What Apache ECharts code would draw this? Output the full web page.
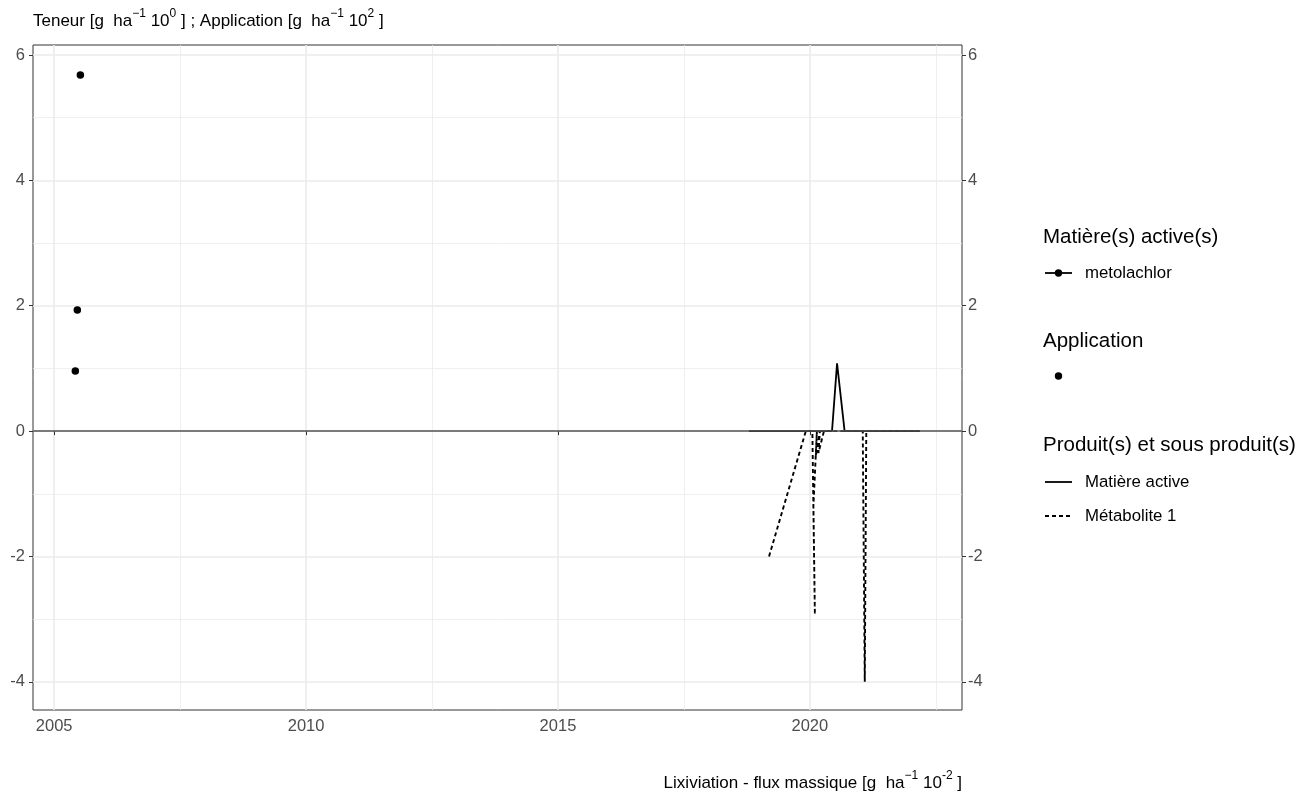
<!DOCTYPE html>
<html>
<head>
<meta charset="utf-8">
<script src="https://cdn.jsdelivr.net/npm/echarts@6/dist/echarts.min.js"></script>
<style>
html,body{margin:0;padding:0;background:#fff;}
#chart{width:1300px;height:795px;}
</style>
</head>
<body>
<div id="chart"></div>
<script>
// ---- data ----
var xMajorTicks = [2005, 2010, 2015, 2020];
var xMinorTicks = [2007.5, 2012.5, 2017.5, 2022.5];
var yMajorTicks = [-4, -2, 0, 2, 4, 6];
var yMinorTicks = [-3, -1, 1, 3, 5];

var applicationX = [2005.52, 2005.46, 2005.42];
var applicationY = [5.68, 1.93, 0.96];

var activeX = [2018.79, 2020.44, 2020.54, 2020.69, 2022.18];
var activeY = [0, 0, 1.08, 0, 0];

var metaboliteX = [2019.19, 2019.92, 2020.00, 2020.05, 2020.10, 2020.07, 2020.14, 2020.12, 2020.20, 2020.17, 2020.28, 2021.00, 2021.05, 2021.09, 2021.12, 2022.18];
var metaboliteY = [-2.0, 0, 0, 0, -2.93, -1.2, 0, -0.4, 0, -0.35, 0, 0, 0, -4.0, 0, 0];

function zip(a, b) { return a.map(function (v, i) { return [v, b[i]]; }); }

var FONT = "'Liberation Sans', Arial, sans-serif";
var chart = echarts.init(document.getElementById('chart'), null, {renderer: 'canvas'});

var supRich = {
  b: {fontSize: 17, fontFamily: FONT, color: '#000', lineHeight: 22, verticalAlign: 'bottom'},
  s: {fontSize: 12, fontFamily: FONT, color: '#000', lineHeight: 12, verticalAlign: 'top'}
};

var X_MIN = 2004.58, X_MAX = 2023.02, Y_MIN = -4.45, Y_MAX = 6.16;

var option = {
  backgroundColor: '#fff',
  animation: false,
  grid: {left: 33, right: 338, top: 45, bottom: 85, show: true, borderColor: '#333', borderWidth: 1, backgroundColor: 'transparent', containLabel: false},
  xAxis: [{
    type: 'value', min: X_MIN, max: X_MAX,
    axisLine: {show: false},
    axisTick: {show: true, inside: false, length: 4, lineStyle: {color: '#333', width: 1}, customValues: xMajorTicks},
    axisLabel: {show: true, margin: 8, color: '#4D4D4D', fontSize: 16.5, fontFamily: FONT, customValues: xMajorTicks, formatter: function (v) { return String(v); }},
    splitLine: {show: true, lineStyle: {color: '#EBEBEB', width: 1.6}, customValues: xMajorTicks}
  }, {
    type: 'value', min: X_MIN, max: X_MAX, position: 'top',
    axisLine: {show: false}, axisLabel: {show: false},
    axisTick: {show: false, customValues: xMinorTicks},
    splitLine: {show: true, lineStyle: {color: '#EBEBEB', width: 0.8}, customValues: xMinorTicks}
  }],
  yAxis: [{
    type: 'value', min: Y_MIN, max: Y_MAX, position: 'left',
    axisLine: {show: false},
    axisTick: {show: true, inside: false, length: 4, lineStyle: {color: '#333', width: 1}, customValues: yMajorTicks},
    axisLabel: {show: true, margin: 8, color: '#4D4D4D', fontSize: 16.5, fontFamily: FONT, customValues: yMajorTicks},
    splitLine: {show: true, lineStyle: {color: '#EBEBEB', width: 1.6}, customValues: yMajorTicks}
  }, {
    type: 'value', min: Y_MIN, max: Y_MAX, position: 'right',
    axisLine: {show: false},
    axisTick: {show: true, inside: false, length: 4, lineStyle: {color: '#333', width: 1}, customValues: yMajorTicks},
    axisLabel: {show: true, margin: 6, color: '#4D4D4D', fontSize: 16.5, fontFamily: FONT, customValues: yMajorTicks},
    splitLine: {show: false}
  }, {
    type: 'value', min: Y_MIN, max: Y_MAX, position: 'right', offset: 0,
    axisLine: {show: false}, axisLabel: {show: false},
    axisTick: {show: false, customValues: yMinorTicks},
    splitLine: {show: true, lineStyle: {color: '#EBEBEB', width: 0.8}, customValues: yMinorTicks}
  }],
  series: [{
    name: 'zero', type: 'line', data: [], z: 1, xAxisIndex: 0, yAxisIndex: 0,
    markLine: {silent: true, symbol: 'none', label: {show: false}, lineStyle: {color: '#555', width: 1.5, type: 'solid'}, data: [{yAxis: 0}]}
  }, {
    name: 'Matière active', type: 'line', xAxisIndex: 0, yAxisIndex: 0, z: 3,
    data: zip(activeX, activeY), showSymbol: false, symbol: 'none',
    lineStyle: {color: '#000', width: 1.8, type: 'solid'}
  }, {
    name: 'Métabolite 1', type: 'line', xAxisIndex: 0, yAxisIndex: 0, z: 3,
    data: zip(metaboliteX, metaboliteY), showSymbol: false, symbol: 'none',
    lineStyle: {color: '#000', width: 1.9, type: [4, 3]}
  }, {
    name: 'Application', type: 'scatter', xAxisIndex: 0, yAxisIndex: 0, z: 4,
    data: zip(applicationX, applicationY), symbol: 'circle', symbolSize: 7.5,
    itemStyle: {color: '#000', opacity: 1}
  }],
  graphic: [
    {type: 'text', left: 33, top: 8, style: {text: '{b|Teneur [g  ha}{s|−1}{b| 10}{s|0}{b| ] ; Application [g  ha}{s|−1}{b| 10}{s|2}{b| ]}', rich: supRich}},
    {type: 'text', right: 338, top: 770, style: {text: '{b|Lixiviation - flux massique [g  ha}{s|−1}{b| 10}{s|-2}{b| ]}', rich: supRich}},
    {type: 'text', x: 1043, y: 237, style: {text: 'Matière(s) active(s)', font: '20.5px ' + FONT, fill: '#000', verticalAlign: 'middle'}},
    {type: 'line', shape: {x1: 1045, y1: 273, x2: 1072, y2: 273}, style: {stroke: '#000', lineWidth: 1.8}},
    {type: 'circle', shape: {cx: 1058.5, cy: 273, r: 3.7}, style: {fill: '#000'}},
    {type: 'text', x: 1085, y: 273, style: {text: 'metolachlor', font: '16.8px ' + FONT, fill: '#000', verticalAlign: 'middle'}},
    {type: 'text', x: 1043, y: 341, style: {text: 'Application', font: '20.5px ' + FONT, fill: '#000', verticalAlign: 'middle'}},
    {type: 'circle', shape: {cx: 1058.5, cy: 376, r: 3.7}, style: {fill: '#000'}},
    {type: 'text', x: 1043, y: 445, style: {text: 'Produit(s) et sous produit(s)', font: '20.5px ' + FONT, fill: '#000', verticalAlign: 'middle'}},
    {type: 'line', shape: {x1: 1045, y1: 482, x2: 1072, y2: 482}, style: {stroke: '#000', lineWidth: 1.8}},
    {type: 'text', x: 1085, y: 482, style: {text: 'Matière active', font: '16.8px ' + FONT, fill: '#000', verticalAlign: 'middle'}},
    {type: 'line', shape: {x1: 1045, y1: 516, x2: 1072, y2: 516}, style: {stroke: '#000', lineWidth: 1.8, lineDash: [4, 3]}},
    {type: 'text', x: 1085, y: 516, style: {text: 'Métabolite 1', font: '16.8px ' + FONT, fill: '#000', verticalAlign: 'middle'}}
  ]
};
chart.setOption(option);
</script>
</body>
</html>
